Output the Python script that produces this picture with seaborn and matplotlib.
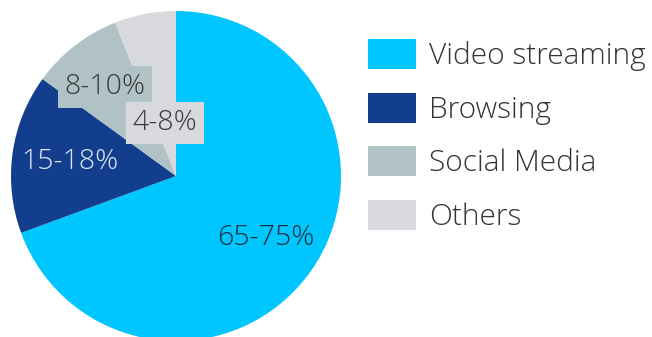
import matplotlib
matplotlib.use("Agg")
import matplotlib.pyplot as plt
import seaborn as sns
from matplotlib.patches import Patch

categories = ["Video streaming", "Browsing", "Social Media", "Others"]
values = [69.4, 15.6, 9.0, 6.0]
labels = ["65-75%", "15-18%", "8-10%", "4-8%"]
colors = ["#00c6ff", "#133e8e", "#b0c2c6", "#d8d9dc"]

sns.set_theme(style="white")
plt.rcParams["font.family"] = ["Open Sans", "DejaVu Sans"]

fig = plt.figure(figsize=(6.52, 3.37), dpi=100)
ax = fig.add_axes([11 / 652, -4 / 337, 330 / 652, 330 / 337])

wedges, _ = ax.pie(values, colors=colors, startangle=90, counterclock=False,
                   radius=1, wedgeprops=dict(linewidth=0))
ax.set_xlim(-1, 1)
ax.set_ylim(-1, 1)
ax.set_aspect("equal")
ax.axis("off")

# label placements (data coords of pie, radius 1)
label_pos = [(0.545, -0.375), (-0.645, 0.085), (-0.43, 0.54), (-0.065, 0.32)]
text_colors = ["#16323e", "#dfe6f2", "#3a3a3a", "#3a3a3a"]
boxes = [None, None, "#b0c2c6", "#d8d9dc"]
for (x, y), lab, tc, bc in zip(label_pos, labels, text_colors, boxes):
    kw = {}
    if bc is not None:
        kw["bbox"] = dict(boxstyle="square,pad=0.24", fc=bc, ec="none")
    ax.text(x, y, lab, ha="center", va="center", fontsize=20.5, color=tc,
            fontweight="light", **kw)

handles = [Patch(facecolor=c, edgecolor="none") for c in colors]
fig.legend(handles, categories, loc="upper left",
           bbox_to_anchor=(368 / 652, 1 - 39 / 337), frameon=False,
           handlelength=1.6, handleheight=1.17,
           handletextpad=0.45, labelspacing=0.72, borderpad=0,
           borderaxespad=0, labelcolor="#333333",
           prop=dict(family=["Open Sans", "DejaVu Sans"], size=21.5, weight="light"))

fig.savefig("out.png", dpi=100)
